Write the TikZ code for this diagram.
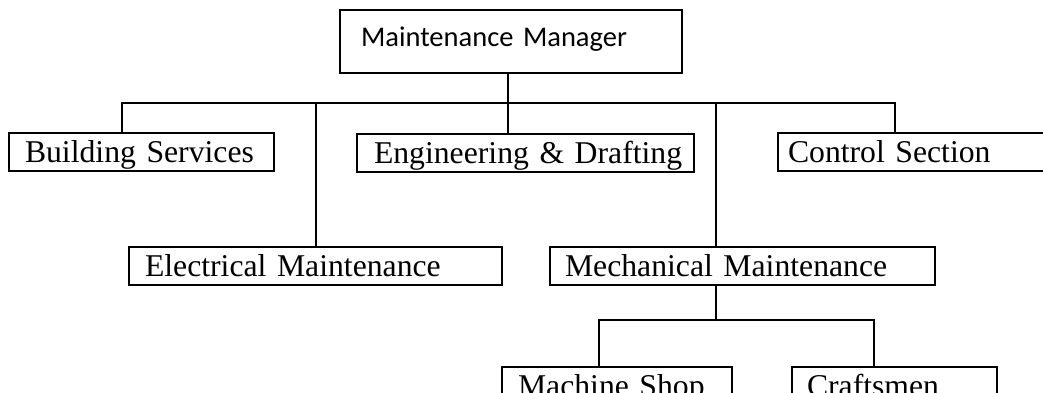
\documentclass[tikz,border=0pt]{standalone}
\usepackage{fontspec}
\setmainfont{Liberation Serif}
\newfontfamily\carlito{Carlito}
\usetikzlibrary{calc}

\begin{document}
\begin{tikzpicture}[x=1pt, y=-1pt,
  unit/.style={draw, line width=2pt, rectangle, anchor=north west, outer sep=0pt,
    inner ysep=0pt, minimum height=38pt, text height=26pt, text depth=5pt,
    align=left, font=\fontsize{31.7}{34}\selectfont},
  link/.style={line width=2pt}]
  \useasboundingbox (0,0) rectangle (1043,393);
  \clip (0,0) rectangle (1043,393);

  % top box
  \node[draw, line width=1.5pt, rectangle, anchor=north west, outer sep=0pt, inner xsep=21pt,
    inner ysep=0pt, minimum height=63pt, text width=300pt, text height=18pt, text depth=7pt,
    align=left, font=\carlito\fontsize{28.5}{30}\selectfont] (mgr) at (340,10) {Maintenance Manager};

  % first level
  \node[unit, inner xsep=16pt, text width=233pt] (bs) at (9,133) {Building Services};
  \node[unit, inner xsep=17pt, text width=303pt] (eng) at (357,134) {\mbox{Engineering \& Drafting}};
  \node[unit, inner xsep=10pt, text width=250pt] (ctl) at (778,133) {Control Section};
  \node[unit, inner xsep=16pt, text width=341pt] (elec) at (129,247) {Electrical Maintenance};
  \node[unit, inner xsep=15pt, text width=355pt] (mech) at (550,247) {Mechanical Maintenance};

  % second level
  \node[unit, inner xsep=16pt, text width=198pt] (shop) at (502,367) {Machine Shop};
  \node[unit, inner xsep=15pt, text width=175pt] (craft) at (792,367) {Craftsmen};

  \coordinate (busL) at (122,103);
  \coordinate (busR) at (895,103);
  \coordinate (tee-eng) at (508,103);
  \coordinate (tee-elec) at (316,103);
  \coordinate (tee-mech) at (716,103);
  \coordinate (sub) at (716,320);
  \coordinate (subL) at (599,320);
  \coordinate (subR) at (874,320);

  \draw[link] (busL |- bs.north) -- (busL) -- (busR) -- (busR |- ctl.north);
  \draw[line width=1.3pt] (mgr.south -| tee-eng) -- (tee-eng |- eng.north);
  \draw[link] (tee-elec) -- (tee-elec |- elec.north);
  \draw[link] (tee-mech) -- (tee-mech |- mech.north);
  \draw[link] (mech.south -| sub) -- (sub);
  \draw[link] (subL |- shop.north) -- (subL) -- (subR) -- (subR |- craft.north);
\end{tikzpicture}
\end{document}
